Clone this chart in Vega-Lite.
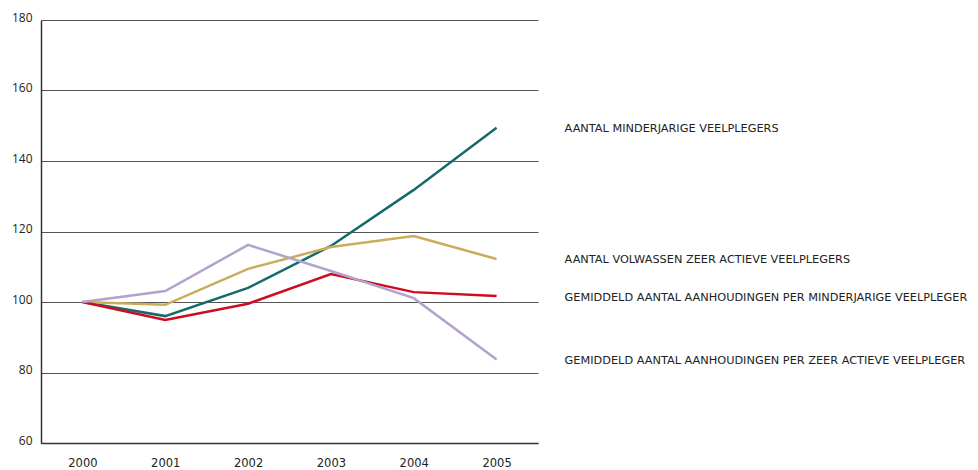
{
  "$schema": "https://vega.github.io/schema/vega-lite/v6.json",
  "width": 497,
  "height": 423,
  "autosize": {"type": "none"},
  "padding": {"left": 41, "top": 20, "right": 440, "bottom": 27},
  "background": "white",
  "config": {
    "view": {"stroke": null},
    "font": "Open Sans"
  },
  "data": {
    "values": [
      {"year": "2000", "series": "AANTAL MINDERJARIGE VEELPLEGERS", "value": 100},
      {"year": "2001", "series": "AANTAL MINDERJARIGE VEELPLEGERS", "value": 96.0},
      {"year": "2002", "series": "AANTAL MINDERJARIGE VEELPLEGERS", "value": 104.0},
      {"year": "2003", "series": "AANTAL MINDERJARIGE VEELPLEGERS", "value": 115.9},
      {"year": "2004", "series": "AANTAL MINDERJARIGE VEELPLEGERS", "value": 131.8},
      {"year": "2005", "series": "AANTAL MINDERJARIGE VEELPLEGERS", "value": 149.4},
      {"year": "2000", "series": "AANTAL VOLWASSEN ZEER ACTIEVE VEELPLEGERS", "value": 100},
      {"year": "2001", "series": "AANTAL VOLWASSEN ZEER ACTIEVE VEELPLEGERS", "value": 99.2},
      {"year": "2002", "series": "AANTAL VOLWASSEN ZEER ACTIEVE VEELPLEGERS", "value": 109.4},
      {"year": "2003", "series": "AANTAL VOLWASSEN ZEER ACTIEVE VEELPLEGERS", "value": 115.6},
      {"year": "2004", "series": "AANTAL VOLWASSEN ZEER ACTIEVE VEELPLEGERS", "value": 118.7},
      {"year": "2005", "series": "AANTAL VOLWASSEN ZEER ACTIEVE VEELPLEGERS", "value": 112.2},
      {"year": "2000", "series": "GEMIDDELD AANTAL AANHOUDINGEN PER MINDERJARIGE VEELPLEGER", "value": 100},
      {"year": "2001", "series": "GEMIDDELD AANTAL AANHOUDINGEN PER MINDERJARIGE VEELPLEGER", "value": 94.9},
      {"year": "2002", "series": "GEMIDDELD AANTAL AANHOUDINGEN PER MINDERJARIGE VEELPLEGER", "value": 99.5},
      {"year": "2003", "series": "GEMIDDELD AANTAL AANHOUDINGEN PER MINDERJARIGE VEELPLEGER", "value": 107.9},
      {"year": "2004", "series": "GEMIDDELD AANTAL AANHOUDINGEN PER MINDERJARIGE VEELPLEGER", "value": 102.8},
      {"year": "2005", "series": "GEMIDDELD AANTAL AANHOUDINGEN PER MINDERJARIGE VEELPLEGER", "value": 101.7},
      {"year": "2000", "series": "GEMIDDELD AANTAL AANHOUDINGEN PER ZEER ACTIEVE VEELPLEGER", "value": 100},
      {"year": "2001", "series": "GEMIDDELD AANTAL AANHOUDINGEN PER ZEER ACTIEVE VEELPLEGER", "value": 103.1},
      {"year": "2002", "series": "GEMIDDELD AANTAL AANHOUDINGEN PER ZEER ACTIEVE VEELPLEGER", "value": 116.2},
      {"year": "2003", "series": "GEMIDDELD AANTAL AANHOUDINGEN PER ZEER ACTIEVE VEELPLEGER", "value": 108.8},
      {"year": "2004", "series": "GEMIDDELD AANTAL AANHOUDINGEN PER ZEER ACTIEVE VEELPLEGER", "value": 101.1},
      {"year": "2005", "series": "GEMIDDELD AANTAL AANHOUDINGEN PER ZEER ACTIEVE VEELPLEGER", "value": 83.7}
    ]
  },
  "encoding": {
    "x": {
      "field": "year", "type": "ordinal",
      "scale": {"type": "point", "padding": 0.5},
      "axis": {
        "title": null, "labelAngle": 0, "ticks": false, "tickSize": 0,
        "labelPadding": 14, "labelFont": "DejaVu Sans", "labelFontSize": 11.5, "labelColor": "#222",
        "domainColor": "#333", "domainWidth": 1.5, "grid": false
      }
    },
    "y": {
      "field": "value", "type": "quantitative",
      "scale": {"domain": [60, 180], "nice": false, "zero": false},
      "axis": {
        "title": null, "values": [60, 80, 100, 120, 140, 160, 180],
        "ticks": false, "tickSize": 0, "labelPadding": 9,
        "labelFontSize": 12, "labelColor": "#222",
        "labelBaseline": "middle", "labelOffset": -3,
        "grid": true, "gridColor": "#555", "gridWidth": 1,
        "domainColor": "#333", "domainWidth": 1.5
      }
    },
    "color": {
      "field": "series", "type": "nominal",
      "scale": {
        "domain": [
          "AANTAL MINDERJARIGE VEELPLEGERS",
          "AANTAL VOLWASSEN ZEER ACTIEVE VEELPLEGERS",
          "GEMIDDELD AANTAL AANHOUDINGEN PER MINDERJARIGE VEELPLEGER",
          "GEMIDDELD AANTAL AANHOUDINGEN PER ZEER ACTIEVE VEELPLEGER"
        ],
        "range": ["#176a6b", "#c9ad5a", "#cf0b22", "#b3a2cc"]
      },
      "legend": null
    }
  },
  "layer": [
    {
      "mark": {"type": "line", "strokeWidth": 2.5}
    },
    {
      "transform": [{"filter": "datum.year == '2005'"}],
      "mark": {"type": "text", "align": "left", "baseline": "middle", "dx": 68, "dy": 1.5, "font": "DejaVu Sans", "fontSize": 11.3, "fill": "#222"},
      "encoding": {
        "text": {"field": "series"},
        "color": {"value": "#222"}
      }
    }
  ]
}
